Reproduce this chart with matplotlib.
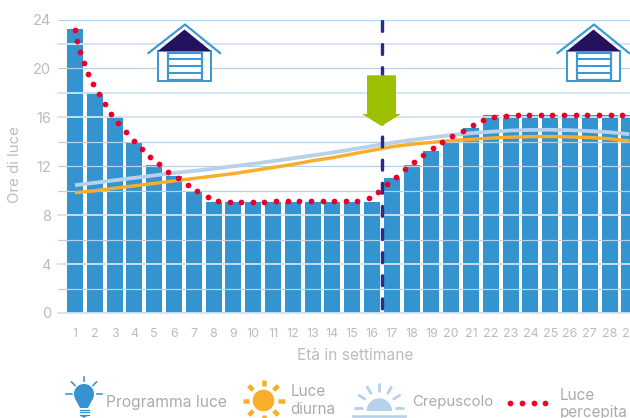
import numpy as np
import matplotlib
matplotlib.use("Agg")
import matplotlib.pyplot as plt
from matplotlib.patches import Polygon, Circle, Rectangle, Wedge

FONT = "Inter"
plt.rcParams["font.family"] = [FONT, "DejaVu Sans"]

weeks = list(range(1, 30))
programma = [23.2, 18.05, 16.1, 14.0, 12.1, 11.2, 10.0, 9.08, 9.08, 9.08, 9.08, 9.08, 9.08, 9.08, 9.08, 9.08,
             11.0, 12.1, 13.25, 14.15, 15.1, 16.17, 16.17, 16.17, 16.17, 16.17, 16.17, 16.17, 16.17]
diurna = [9.84, 10.0, 10.2, 10.4, 10.6, 10.8, 11.0, 11.2, 11.4, 11.65, 11.9, 12.15, 12.45, 12.7, 13.0, 13.3,
          13.6, 13.8, 13.95, 14.1, 14.2, 14.3, 14.38, 14.42, 14.43, 14.4, 14.35, 14.25, 14.07]
crepuscolo = [10.45, 10.65, 10.85, 11.05, 11.25, 11.45, 11.62, 11.8, 12.0, 12.2, 12.42, 12.65, 12.88, 13.12,
              13.38, 13.65, 13.92, 14.15, 14.35, 14.55, 14.7, 14.82, 14.92, 14.97, 14.98, 14.95, 14.88, 14.78, 14.62]
perc_x = [1.00, 1.12, 1.27, 1.45, 1.67, 1.93, 2.21, 2.52, 2.83, 3.19, 3.58, 3.96, 4.38, 4.80, 5.26, 5.71, 6.20,
          6.69, 7.17, 7.70, 8.22, 8.81, 9.40, 9.99, 10.56, 11.15, 11.74, 12.33, 12.92, 13.51, 14.10, 14.69, 15.26,
          15.83, 16.32, 16.76, 17.20, 17.65, 18.11, 18.58, 19.07, 19.55, 20.06, 20.58, 21.10, 21.62, 22.18, 22.77,
          23.36, 23.94, 24.52, 25.10, 25.70, 26.29, 26.87, 27.46, 28.06, 28.63]
perc_y = [23.18, 22.26, 21.33, 20.43, 19.56, 18.71, 17.87, 17.05, 16.26, 15.52, 14.78, 14.07, 13.42, 12.77, 12.17,
          11.56, 11.02, 10.50, 10.01, 9.52, 9.14, 9.08, 9.08, 9.08, 9.11, 9.14, 9.14, 9.17, 9.17, 9.19, 9.19, 9.19,
          9.19, 9.38, 9.93, 10.56, 11.16, 11.78, 12.36, 12.93, 13.47, 13.97, 14.48, 14.92, 15.36, 15.79, 16.01,
          16.12, 16.15, 16.17, 16.17, 16.17, 16.17, 16.17, 16.17, 16.17, 16.17, 16.17]
y_ticks = [0, 4, 8, 12, 16, 20, 24]
grid_levels = list(range(0, 25, 2))
pale_levels = [0, 4, 8, 16, 18, 22]
switch_week = 16.48
switch_top = 23.85

BLUE = "#3494d0"
ORANGE = "#f9ae2b"
PALE = "#b7d1ea"
RED = "#e8002b"
NAVY = "#2a2a8c"
GREEN = "#9cbf00"
DARK = "#23125e"
TXT = "#bcbcbc"
LEG = "#ababab"

W, H = 630, 418
fig = plt.figure(figsize=(W / 100, H / 100), dpi=100)
px = 0.72  # points per pixel
ax = fig.add_axes([57.5 / W, 1 - 313 / H, (W - 57.5) / W, (313 - 19.5) / H])
ax.set_xlim(0.116, 29.03)
ax.set_ylim(0, 24)
for s in ax.spines.values():
    s.set_visible(False)
ax.patch.set_alpha(0)

ax.bar(weeks, programma, width=0.81, color=BLUE, zorder=2)
for lv in grid_levels:
    if lv in pale_levels:
        ax.axhline(lv, color="#d3e3f1", lw=1.8 * px, zorder=3, clip_on=False)
    else:
        ax.axhline(lv, color="#b5d2e9", lw=1.2 * px, zorder=3)
ax.plot(weeks, crepuscolo, color=PALE, lw=3.8 * px, zorder=4, solid_capstyle="butt")
ax.plot(weeks, diurna, color=ORANGE, lw=3.4 * px, zorder=5, solid_capstyle="butt")
ax.plot([switch_week, switch_week], [switch_top, 0], color=NAVY, lw=3.4 * px, zorder=6,
        dashes=(2.9, 3.9), dash_capstyle="round")
ax.scatter(perc_x, perc_y, s=17, color=RED, linewidths=0, zorder=8)

ax.set_xticks(weeks)
ax.set_xticklabels([str(w) for w in weeks])
ax.set_yticks(y_ticks)
ax.tick_params(axis="both", length=0)
ax.tick_params(axis="x", labelsize=9, labelcolor=TXT, pad=11)
ax.tick_params(axis="y", labelsize=10.5, labelcolor=TXT, pad=4.8)

# overlay in pixel coordinates for decorative icons and legend
ov = fig.add_axes([0, 0, 1, 1], zorder=10)
ov.set_xlim(0, W)
ov.set_ylim(H, 0)
ov.axis("off")

ov.text(14.7, 165, "Ore di luce", rotation=90, ha="center", va="center", fontsize=10.8, color=TXT)
ov.text(355, 355, "Età in settimane", ha="center", va="center", fontsize=11.2, color=TXT)

# arrow
ov.add_patch(Polygon([(367, 75.3), (396, 75.3), (396, 114), (401, 114), (381.5, 126), (362, 114), (367, 114)],
                     closed=True, fc=GREEN, ec="none", zorder=7))


def garage(dx):
    c = "#3a9ad6"
    ov.add_patch(Polygon([(158 + dx, 51), (184.5 + dx, 29.5), (211 + dx, 51)], closed=True, fc=DARK, ec="none", zorder=3))
    ov.plot([148.5 + dx, 185 + dx, 220 + dx], [53, 24.5, 53], color=c, lw=2.2 * px, zorder=4)
    ov.add_patch(Rectangle((158 + dx, 51), 53, 29.5, fc="white", ec=c, lw=2 * px, zorder=2))
    ov.add_patch(Rectangle((168 + dx, 52.5), 33.5, 27.5, fc="white", ec=c, lw=2.2 * px, zorder=3))
    for y in (58.5, 65.5, 72.5):
        ov.plot([168 + dx, 201.5 + dx], [y, y], color=c, lw=2 * px, zorder=3)


garage(0)
garage(409)

# legend: bulb
cb = BLUE
ov.add_patch(Circle((84, 394), 10, fc=cb, ec="none"))
ov.add_patch(Polygon([(74.8, 398), (93.2, 398), (88, 408), (80, 408)], closed=True, fc=cb, ec="none"))
for y in (409.5, 412, 414.5):
    ov.plot([79.5, 88.5], [y, y], color=cb, lw=1.3 * px)
ov.add_patch(Polygon([(81, 416), (87, 416), (84, 418)], closed=True, fc=cb, ec="none"))
for (a, b, c_, d) in [(84, 377, 84, 381), (71.5, 382, 75, 385.5), (96.5, 382, 93, 385.5), (66, 394, 71.5, 394), (97, 394, 102, 394)]:
    ov.plot([a, c_], [b, d], color=cb, lw=1.6 * px)
ov.text(106.5, 402, "Programma luce", ha="left", va="center", fontsize=11.2, color=LEG)

# legend: sun
sx, sy = 263.5, 400.5
ov.add_patch(Circle((sx, sy), 10.8, fc=ORANGE, ec="none"))
for ang in np.deg2rad(np.arange(0, 360, 45)):
    ov.plot([sx + 14.5 * np.cos(ang), sx + 21 * np.cos(ang)], [sy + 14.5 * np.sin(ang), sy + 21 * np.sin(ang)],
            color=ORANGE, lw=4.5 * px, solid_capstyle="butt")
ov.text(290.5, 392, "Luce", ha="left", va="center", fontsize=11, color=LEG)
ov.text(290.5, 409, "diurna", ha="left", va="center", fontsize=11, color=LEG)

# legend: twilight
tx, ty = 379.3, 411
ov.add_patch(Wedge((tx, ty), 12.7, 180, 360, fc=PALE, ec="none"))
ov.plot([353, 405], [416, 416], color=PALE, lw=2.6 * px)
for deg in (180, 212, 240, 270, 300, 328, 360):
    r = np.deg2rad(deg)
    ov.plot([tx + 17 * np.cos(r), tx + 24 * np.cos(r)], [ty - 3 + 17 * np.sin(r), ty - 3 + 24 * np.sin(r)],
            color=PALE, lw=2.8 * px, solid_capstyle="round")
ov.text(412, 402, "Crepuscolo", ha="left", va="center", fontsize=10.8, color=LEG)

# legend: perceived
ov.scatter([510, 521.7, 533.7, 545], [402.7] * 4, s=17, color="#f00028", linewidths=0)
ov.text(560, 395, "Luce", ha="left", va="center", fontsize=11, color=LEG)
ov.text(560, 412, "percepita", ha="left", va="center", fontsize=11, color=LEG)

fig.savefig("out.png", dpi=100)
